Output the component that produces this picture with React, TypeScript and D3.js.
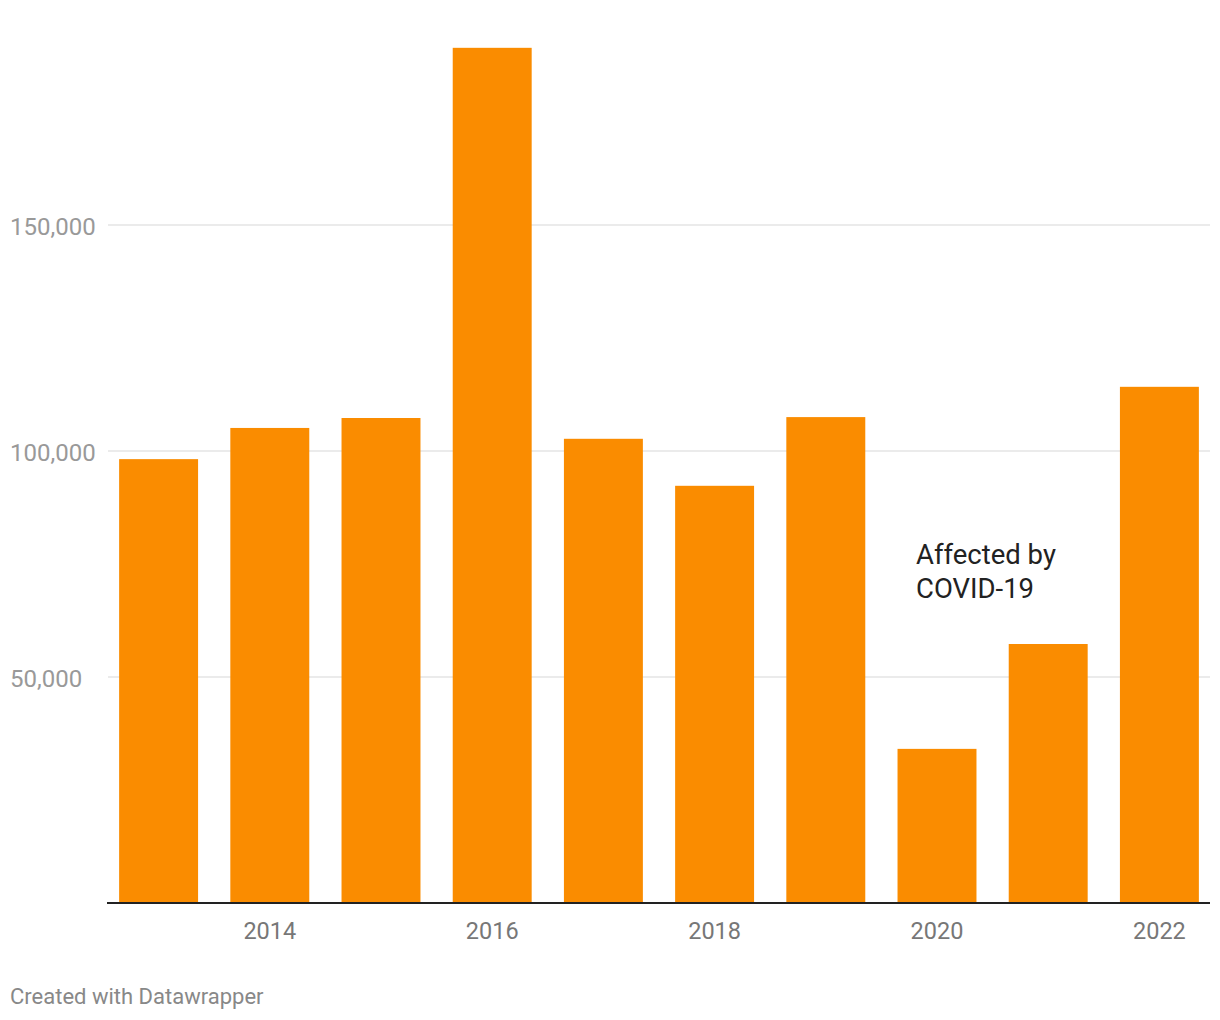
import React from "react";
import * as d3 from "d3";

const years = ["2013", "2014", "2015", "2016", "2017", "2018", "2019", "2020", "2021", "2022"];
const values = [98200, 105100, 107300, 189200, 102700, 92300, 107500, 34100, 57300, 114200];
const yTicks = [50000, 100000, 150000];
const xTickLabels = ["2014", "2016", "2018", "2020", "2022"];
const annotationLines = ["Affected by", "COVID-19"];

const W = 1220;
const H = 1020;
const plotLeft = 108;
const plotRight = 1210;
const baseY = 903;

export default function App() {
  const x = d3.scaleBand<string>().domain(years).range([103, 1215]).paddingInner(0.29).paddingOuter(0.145);
  const y = d3.scaleLinear().domain([0, 50000]).range([baseY, baseY - 226]);
  const fmt = d3.format(",");
  const font = "Roboto, sans-serif";
  return (
    <svg width={W} height={H} style={{ position: "absolute", left: 0, top: 0, background: "#fff" }} fontFamily={font}>
      {yTicks.map((t) => (
        <g key={t}>
          <line x1={plotLeft} x2={plotRight} y1={y(t)} y2={y(t)} stroke="#e5e5e5" strokeWidth={1.5} />
          <text x={10} y={y(t) + 1} dy="0.36em" fontSize={24} fill="#999">{fmt(t)}</text>
        </g>
      ))}
      {years.map((yr, i) => (
        <rect key={yr} x={x(yr)} width={x.bandwidth()} y={y(values[i])} height={baseY - y(values[i])} fill="#fa8c00" />
      ))}
      <line x1={107} x2={plotRight} y1={baseY} y2={baseY} stroke="#222" strokeWidth={2} />
      {xTickLabels.map((yr) => (
        <text key={yr} x={(x(yr) as number) + x.bandwidth() / 2} y={938.5} textAnchor="middle" fontSize={23.5} fill="#777">{yr}</text>
      ))}
      {annotationLines.map((l, i) => (
        <text key={l} x={916} y={564 + i * 33.5} fontSize={27.5} fill="#222">{l}</text>
      ))}
      <text x={10} y={1004} fontSize={22} fill="#888">Created with Datawrapper</text>
    </svg>
  );
}
